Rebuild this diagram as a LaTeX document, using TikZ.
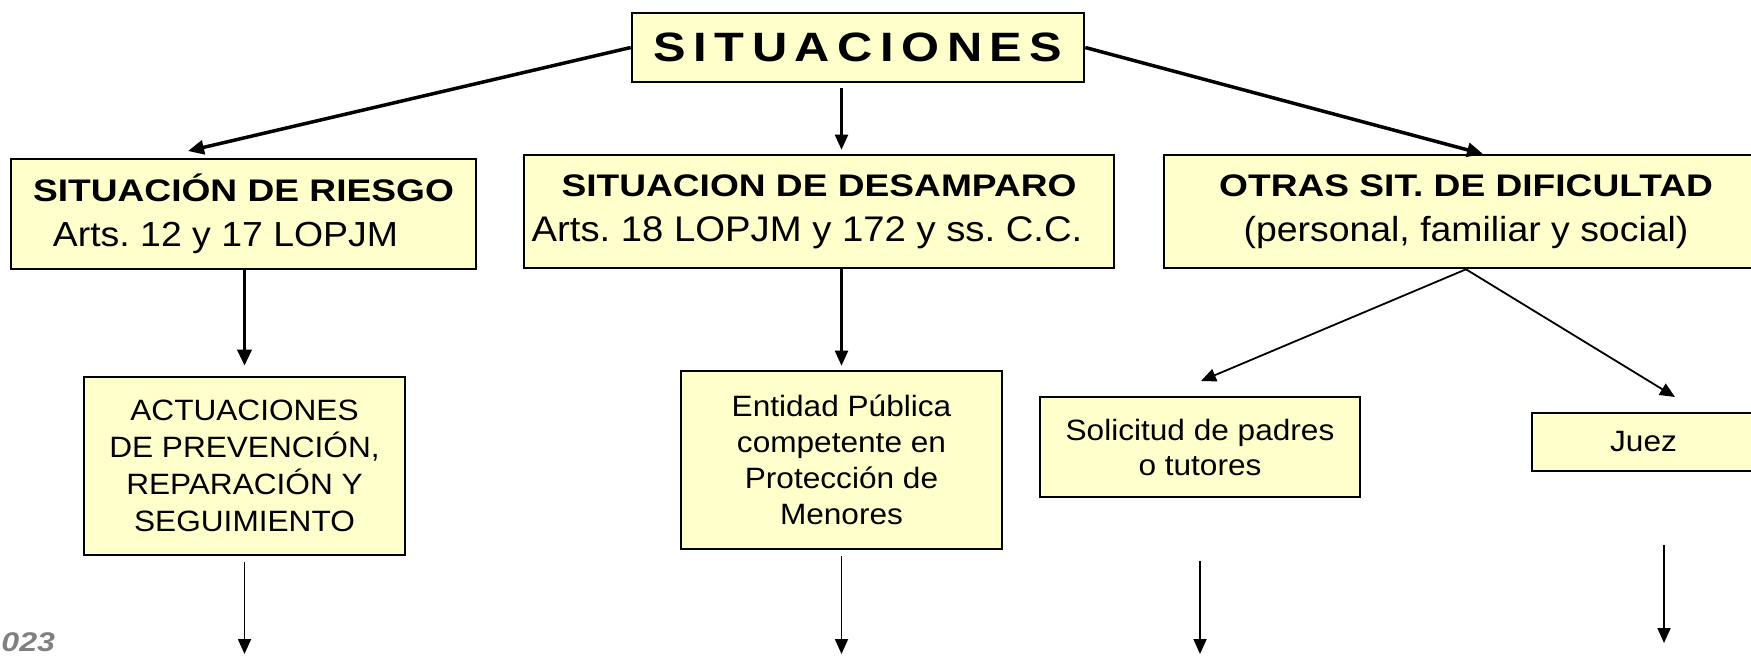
\documentclass[tikz,border=0pt]{standalone}
\usepackage{fontspec}
\setmainfont{Liberation Sans}[FakeStretch=1.075]
\newfontfamily\boldf{Liberation Sans}[FakeStretch=1.19]
\usetikzlibrary{arrows.meta}
\definecolor{boxfill}{HTML}{FFFFCC}
\definecolor{numgray}{HTML}{808080}
\newcommand{\hdrtitle}[1]{{\boldf\bfseries\fontsize{15.6}{22.3}\selectfont #1}}
\tikzset{
  box/.style={draw=black, line width=1.3pt, fill=boxfill, inner sep=0pt, align=center},
  hdr/.style={box, font=\fontsize{17.4}{22.3}\selectfont},
  small/.style={box, font=\fontsize{14.7}{18.6}\selectfont},
  thickarr/.style={line width=1.75pt, -{Triangle[length=8pt,width=7pt]}},
  medarr/.style={line width=1.1pt, -{Triangle[length=7.5pt,width=6.5pt]}},
  thinarr/.style={line width=0.9pt, -{Triangle[length=7.5pt,width=6.5pt]}},
}
\begin{document}
\frenchspacing
\begin{tikzpicture}[x=0.5pt,y=-0.5pt]
\useasboundingbox (0,0) rectangle (1751,655);
% boxes
\node[box, minimum width=226pt, minimum height=34.5pt, font=\boldf\bfseries\fontsize{20.5}{25}\selectfont] (sit) at (858,47.5)
  {\makebox[204.5pt][s]{S\hfill I\hfill T\hfill U\hfill A\hfill C\hfill I\hfill O\hfill N\hfill E\hfill S}};
\node[hdr, minimum width=232.5pt, minimum height=55pt] (riesgo) at (243.5,214)
  {\hdrtitle{SITUACIÓN DE RIESGO}\\\hspace*{-18pt}Arts. 12 y 17 LOPJM};
\node[hdr, minimum width=295pt, minimum height=56.5pt] (desamp) at (819,211.5)
  {\hdrtitle{SITUACION DE DESAMPARO}\\\hspace*{-12pt}{\fontsize{17.8}{22.3}\selectfont Arts. 18 LOPJM y 172 y ss. C.C.}};
\node[hdr, minimum width=302pt, minimum height=56.5pt] (otras) at (1466,211.5)
  {\hdrtitle{OTRAS SIT. DE DIFICULTAD}\\(personal, familiar y social)};
\node[small, minimum width=160.5pt, minimum height=89pt] (actu) at (244.5,466)
  {ACTUACIONES\\DE PREVENCIÓN,\\REPARACIÓN Y\\SEGUIMIENTO};
\node[small, minimum width=160.5pt, minimum height=89pt, font=\fontsize{14.7}{18}\selectfont] (entidad) at (841.5,460)
  {Entidad Pública\\competente en\\Protección de\\Menores};
\node[small, minimum width=160pt, minimum height=50pt, font=\fontsize{14.7}{17.5}\selectfont] (solic) at (1200,447)
  {Solicitud de padres\\o tutores};
\node[small, minimum width=111.5pt, minimum height=29pt] (juez) at (1643.5,442) {Juez};
\node[anchor=base west, inner sep=0pt, font=\boldf\bfseries\itshape\fontsize{13.5}{14}\selectfont, text=numgray] (yr) at (1,651) {023};
% free ends
\coordinate (tR) at (188,151);
\coordinate (tO) at (1483,154);
\coordinate (tS) at (1201,381);
\coordinate (tJ) at (1675,397);
\coordinate (bot) at (0,654);
\coordinate (jz1) at (1664,545);
\coordinate (jz2) at (1664,643);
\coordinate (sl1) at (1200,561);
% connectors
\draw[thickarr] (sit.west) -- (tR);
\draw[thickarr] (sit.east) -- (tO);
\draw[medarr, shorten <=2.5pt, shorten >=2pt] (sit.south -| entidad) -- (desamp.north -| entidad);
\draw[thickarr, shorten >=5pt] (riesgo.south -| actu) -- (actu.north);
\draw[medarr, shorten >=2pt] (desamp.south -| entidad) -- (entidad.north);
\draw[thinarr] (otras.south) -- (tS);
\draw[thinarr] (otras.south) -- (tJ);
\draw[thinarr, shorten <=3pt] (actu.south) -- (actu.south |- bot);
\draw[thinarr, shorten <=3pt] (entidad.south) -- (entidad.south |- bot);
\draw[thinarr] (sl1) -- (sl1 |- bot);
\draw[thinarr] (jz1) -- (jz2);
\end{tikzpicture}
\end{document}
